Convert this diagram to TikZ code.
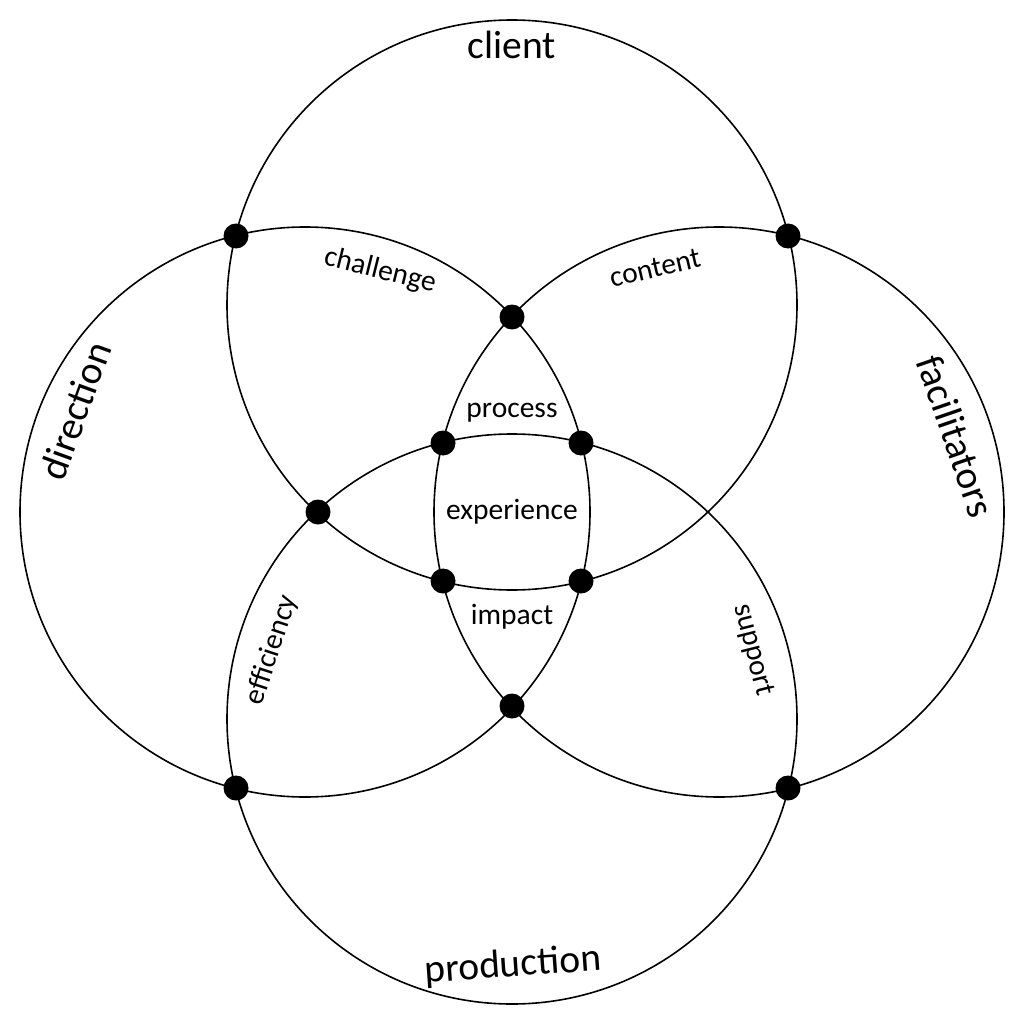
\documentclass[tikz,border=0pt]{standalone}
\usepackage{fontspec}
\setmainfont{Carlito}
\begin{document}
\begin{tikzpicture}[x=1pt,y=-1pt,
  ring/.style={draw=black,line width=1.6pt,circle,minimum size=570pt,inner sep=0pt},
  dot/.style={fill=black,circle,minimum size=25pt,inner sep=0pt},
  big/.style={font=\fontsize{39.5}{41}\selectfont,inner sep=0pt},
  small/.style={font=\fontsize{29.5}{31}\selectfont,inner sep=0pt}]
\useasboundingbox[fill=white] (0,0) rectangle (1024,1024);
\node[ring] (ctop) at (512,305) {};
\node[ring] (cleft) at (305,512) {};
\node[ring] (cright) at (719,512) {};
\node[ring] (cbot) at (512,719) {};
% dots
\node[dot] (d1) at (236,236) {};
\node[dot] (d2) at (788,236) {};
\node[dot] (d3) at (512,317) {};
\node[dot] (d4) at (318,512) {};
\node[dot] (d5) at (443,443) {};
\node[dot] (d6) at (581,443) {};
\node[dot] (d7) at (443,581) {};
\node[dot] (d8) at (581,581) {};
\node[dot] (d9) at (512,706) {};
\node[dot] (d10) at (236,788) {};
\node[dot] (d11) at (788,788) {};
% labels
\node[big] (lclient) at (512,45) {client};
\node[big,rotate=70] (ldir) at (75,411) {direction};
\node[big,rotate=-71] (lfac) at (956,436) {facilitators};
\node[big,rotate=4] (lprod) at (513,966) {production};
\node[small,rotate=-14] (lchal) at (380,271) {challenge};
\node[small,rotate=13] (lcont) at (655,268) {content};
\node[small] (lproc) at (512,413) {process};
\node[small] (lexp) at (512,512) {experience};
\node[small] (limp) at (512,617) {impact};
\node[small,rotate=72] (leff) at (272,650) {efficiency};
\node[small,rotate=-76] (lsup) at (753,650) {support};
\end{tikzpicture}
\end{document}
